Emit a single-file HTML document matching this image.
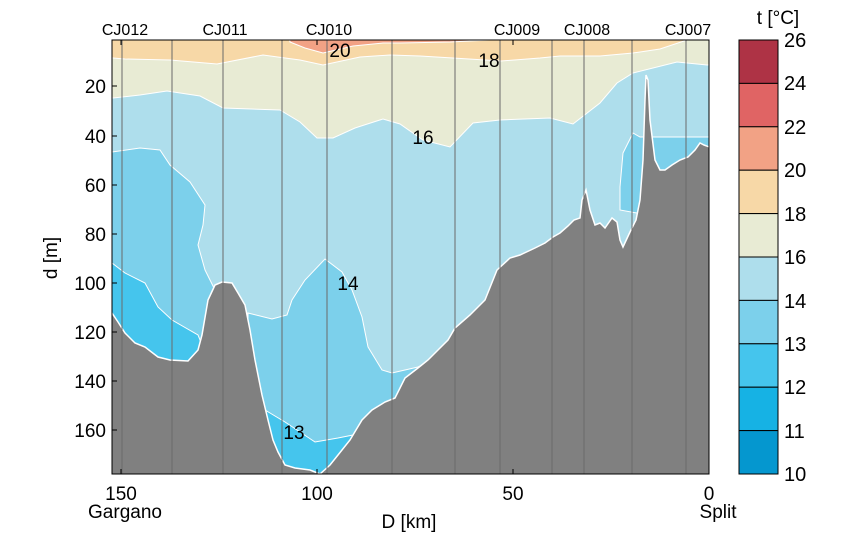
<!DOCTYPE html>
<html><head><meta charset="utf-8"><style>
html,body{margin:0;padding:0;background:#fff;}
svg{display:block;font-family:"Liberation Sans",sans-serif;}
</style></head><body>
<svg width="860" height="533" viewBox="0 0 860 533" xmlns="http://www.w3.org/2000/svg">
<defs><clipPath id="c"><rect x="112" y="40" width="597" height="434"/></clipPath></defs>
<g clip-path="url(#c)" stroke="#fff" stroke-width="1">
<rect x="112" y="40" width="597" height="434" fill="#aedeec" stroke="none"/>
<polygon fill="#e8ebd4" points="100,30 720,30 720,64 707,65 677,62 633,73 617,83 600,103 573,124 550,118 500,120 473,123 450,147 423,140 400,124 383,119 355,128 333,138 317,138 300,122 280,110 223,108 200,96 167,91 140,95 113,98 100,98"/>
<polygon fill="#f7d8a7" points="100,30 687,30 687,40 660,49 633,53 600,56 560,56 540,58 501,61 453,58 420,56 390,55 360,57 323,65 300,60 263,55 217,64 170,60 125,59 113,58 100,58"/>
<polygon fill="#f2a285" points="288,30 495,30 490,40 450,42 400,43 383,43 353,46 323,53 305,48 290,42"/>
<polygon fill="#7cd0eb" points="100,152 112,152 140,148 160,150 170,165 190,182 205,205 203,225 198,245 205,270 215,290 215,480 100,480"/>
<polygon fill="#45c5ed" points="100,263 112,263 125,273 145,283 158,307 172,320 198,335 204,350 204,480 100,480"/>
<polygon fill="#7cd0eb" points="248,313 272,319 287,315 292,300 305,280 325,259 342,272 352,290 362,317 368,347 382,370 392,373 418,367 438,357 455,345 455,480 248,480"/>
<polygon fill="#45c5ed" points="265,410 285,422 315,442 338,438 368,432 375,480 265,480"/>
<polygon fill="#7cd0eb" points="633,133 640,137 709,137 709,200 637,213 620,210 620,187 623,153"/>
<polygon fill="#808080" stroke-width="1.5" points="105,313 112,313 118,322 125,333 135,343 145,347 158,357 170,360 188,361 198,350 202,335 208,300 215,285 222,282 232,283 238,293 245,305 250,330 255,360 262,395 268,420 273,440 278,452 285,465 295,468 310,470 320,474 330,465 338,455 350,440 362,420 372,410 385,402 395,398 405,378 418,368 428,360 440,348 448,340 455,328 470,315 485,300 497,270 510,258 520,255 535,248 545,243 553,237 560,233 568,226 574,220 580,218 582,200 586,190 590,210 595,225 600,223 605,228 612,218 617,222 620,240 623,247 630,232 636,220 640,200 643,160 645,100 646,75 648,80 650,120 655,160 660,170 665,170 672,165 680,160 688,157 695,150 700,143 704,145 712,148 712,480 105,480"/>
</g>
<g stroke="#6a6a6a" stroke-width="1">
<line x1="122" y1="40" x2="122" y2="474"/><line x1="172" y1="40" x2="172" y2="474"/><line x1="223" y1="40" x2="223" y2="474"/><line x1="282" y1="40" x2="282" y2="474"/><line x1="327" y1="40" x2="327" y2="474"/><line x1="392" y1="40" x2="392" y2="474"/><line x1="455" y1="40" x2="455" y2="474"/><line x1="500" y1="40" x2="500" y2="474"/><line x1="552" y1="40" x2="552" y2="474"/><line x1="584" y1="40" x2="584" y2="474"/><line x1="632" y1="40" x2="632" y2="474"/><line x1="686" y1="40" x2="686" y2="474"/>
</g>
<rect x="112" y="40" width="597" height="434" fill="none" stroke="#000" stroke-width="1"/>
<g stroke="#000" stroke-width="1">
<line x1="112" y1="86" x2="117" y2="86"/><line x1="112" y1="136" x2="117" y2="136"/><line x1="112" y1="185" x2="117" y2="185"/><line x1="112" y1="234" x2="117" y2="234"/><line x1="112" y1="283" x2="117" y2="283"/><line x1="112" y1="332" x2="117" y2="332"/><line x1="112" y1="381" x2="117" y2="381"/><line x1="112" y1="430" x2="117" y2="430"/>
<line x1="121" y1="474" x2="121" y2="469"/><line x1="317" y1="474" x2="317" y2="469"/><line x1="513" y1="474" x2="513" y2="469"/>
<line x1="121" y1="40" x2="121" y2="45"/><line x1="317" y1="40" x2="317" y2="45"/><line x1="513" y1="40" x2="513" y2="45"/>
</g>
<g font-size="19" text-anchor="end" fill="#000">
<text x="106" y="93">20</text><text x="106" y="143">40</text><text x="106" y="192">60</text><text x="106" y="241">80</text><text x="106" y="290">100</text><text x="106" y="339">120</text><text x="106" y="388">140</text><text x="106" y="437">160</text>
</g>
<g font-size="19" text-anchor="middle" fill="#000">
<text x="121" y="500">150</text><text x="317" y="500">100</text><text x="513" y="500">50</text><text x="709" y="500">0</text>
<text x="125" y="518">Gargano</text><text x="718" y="518">Split</text><text x="409" y="528">D [km]</text>
<text x="340" y="57">20</text><text x="489" y="67">18</text><text x="423" y="144">16</text><text x="348" y="290">14</text><text x="294" y="439">13</text>
<text transform="translate(57,258) rotate(-90)">d [m]</text>
<text x="778" y="24">t [°C]</text>
</g>
<g font-size="16" text-anchor="middle" fill="#000">
<text x="125" y="35">CJ012</text><text x="225" y="35">CJ011</text><text x="329" y="35">CJ010</text><text x="517" y="35">CJ009</text><text x="587" y="35">CJ008</text><text x="688" y="35">CJ007</text>
</g>
<g stroke="#000" stroke-width="1">
<rect x="739" y="40" width="39" height="43.4" fill="#ae3345"/>
<rect x="739" y="83.4" width="39" height="43.4" fill="#e06464"/>
<rect x="739" y="126.8" width="39" height="43.4" fill="#f2a285"/>
<rect x="739" y="170.2" width="39" height="43.4" fill="#f7d8a7"/>
<rect x="739" y="213.6" width="39" height="43.4" fill="#e8ebd4"/>
<rect x="739" y="257" width="39" height="43.4" fill="#aedeec"/>
<rect x="739" y="300.4" width="39" height="43.4" fill="#7cd0eb"/>
<rect x="739" y="343.8" width="39" height="43.4" fill="#45c5ed"/>
<rect x="739" y="387.2" width="39" height="43.4" fill="#16b2e4"/>
<rect x="739" y="430.6" width="39" height="43.4" fill="#0597cf"/>
</g>
<g font-size="20" fill="#000">
<text x="784" y="47">26</text><text x="784" y="90">24</text><text x="784" y="134">22</text><text x="784" y="177">20</text><text x="784" y="221">18</text><text x="784" y="264">16</text><text x="784" y="308">14</text><text x="784" y="351">13</text><text x="784" y="394">12</text><text x="784" y="438">11</text><text x="784" y="481">10</text>
</g>
</svg>
</body></html>
